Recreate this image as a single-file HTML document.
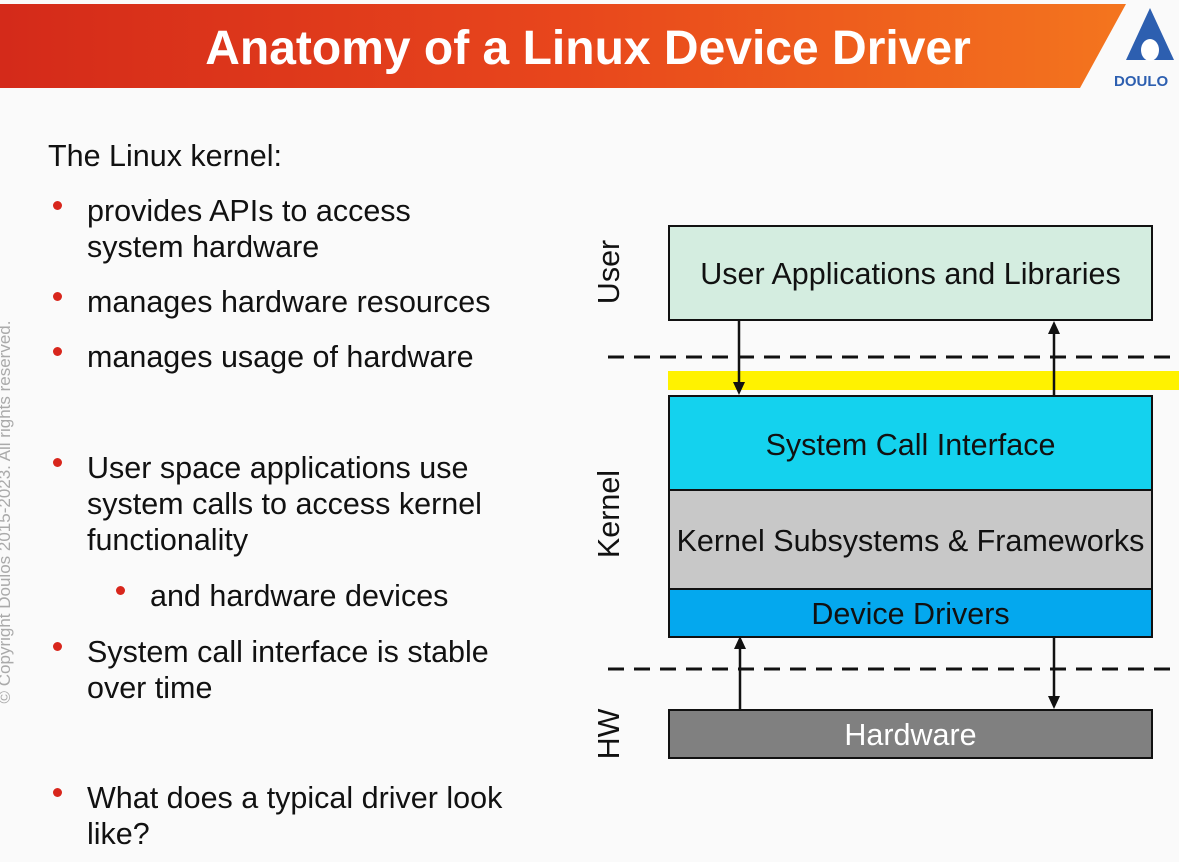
<!DOCTYPE html>
<html><head><meta charset="utf-8"><style>
html,body{margin:0;padding:0;}
body{width:1179px;height:862px;background:#fafafa;position:relative;overflow:hidden;font-family:"Liberation Sans",Arial,sans-serif;}
.t{position:absolute;font-size:30.5px;color:#111;line-height:36px;white-space:nowrap;}
.b{position:absolute;width:9px;height:9px;border-radius:50%;background:#d8261c;}
.box{position:absolute;left:668px;width:481px;border:2px solid #111;display:flex;align-items:center;justify-content:center;font-size:30.5px;color:#111;padding-top:3px;box-sizing:content-box;}
</style></head><body>
<svg width="1179" height="90" style="position:absolute;left:0;top:0">
<defs><linearGradient id="g" x1="0" x2="1"><stop offset="0" stop-color="#d42a1a"/><stop offset="0.5" stop-color="#e8461c"/><stop offset="1" stop-color="#f4751e"/></linearGradient></defs>
<polygon points="0,4 1126,4 1080,88 0,88" fill="url(#g)"/>
<polygon points="1150,8 1126,60 1174,60" fill="#2d5fb0"/>
<ellipse cx="1150" cy="50" rx="9" ry="11" fill="#fff"/>
<text x="1114" y="86" font-family="Liberation Sans" font-weight="bold" font-size="15" fill="#2d5fb0">DOULO</text>
<text x="588" y="64" text-anchor="middle" font-family="Liberation Sans" font-weight="bold" font-size="48" fill="#fff">Anatomy of a Linux Device Driver</text>
</svg>
<div style="position:absolute;left:-220px;top:502px;width:450px;text-align:center;transform:rotate(-90deg);font-size:17px;color:#aaa;white-space:nowrap;">© Copyright Doulos 2015-2023. All rights reserved.</div>

<div class="t" style="left:48px;top:138px">The Linux kernel:</div>
<div class="b" style="left:53px;top:201px"></div><div class="t" style="left:87px;top:193px">provides APIs to access<br>system hardware</div>
<div class="b" style="left:53px;top:292px"></div><div class="t" style="left:87px;top:284px">manages hardware resources</div>
<div class="b" style="left:53px;top:347px"></div><div class="t" style="left:87px;top:339px">manages usage of hardware</div>
<div class="b" style="left:53px;top:458px"></div><div class="t" style="left:87px;top:450px">User space applications use<br>system calls to access kernel<br>functionality</div>
<div class="b" style="left:116px;top:586px"></div><div class="t" style="left:150px;top:578px">and hardware devices</div>
<div class="b" style="left:53px;top:642px"></div><div class="t" style="left:87px;top:634px">System call interface is stable<br>over time</div>
<div class="b" style="left:53px;top:788px"></div><div class="t" style="left:87px;top:780px">What does a typical driver look<br>like?</div>

<div style="position:absolute;left:668px;top:371px;width:511px;height:19px;background:#fff200;"></div>
<div class="box" style="top:225px;height:89px;background:#d4ede0">User Applications and Libraries</div>
<div class="box" style="top:395px;height:91px;background:#14d2ee">System Call Interface</div>
<div class="box" style="top:489px;height:94px;background:#c8c8c8">Kernel Subsystems &amp; Frameworks</div>
<div class="box" style="top:588px;height:43px;background:#04a8ee">Device Drivers</div>
<div class="box" style="top:709px;height:43px;background:#808080;color:#fff">Hardware</div>

<svg width="1179" height="862" style="position:absolute;left:0;top:0">
<g stroke="#111" stroke-width="3" stroke-dasharray="16,10">
<line x1="608" y1="357" x2="1179" y2="357"/>
<line x1="608" y1="669" x2="1179" y2="669"/>
</g>
<g stroke="#111" stroke-width="2.5">
<line x1="739" y1="321" x2="739" y2="385"/>
<line x1="1054" y1="395" x2="1054" y2="331"/>
<line x1="740" y1="709" x2="740" y2="646"/>
<line x1="1054" y1="636" x2="1054" y2="699"/>
</g>
<g fill="#111">
<polygon points="733,382 745,382 739,395"/>
<polygon points="1048,334 1060,334 1054,321"/>
<polygon points="734,649 746,649 740,636"/>
<polygon points="1048,696 1060,696 1054,709"/>
</g>
<g font-family="Liberation Sans" font-size="30.5" fill="#111" text-anchor="middle">
<text transform="translate(619,272) rotate(-90)">User</text>
<text transform="translate(619,514) rotate(-90)">Kernel</text>
<text transform="translate(619,734) rotate(-90)">HW</text>
</g>
</svg>
</body></html>
